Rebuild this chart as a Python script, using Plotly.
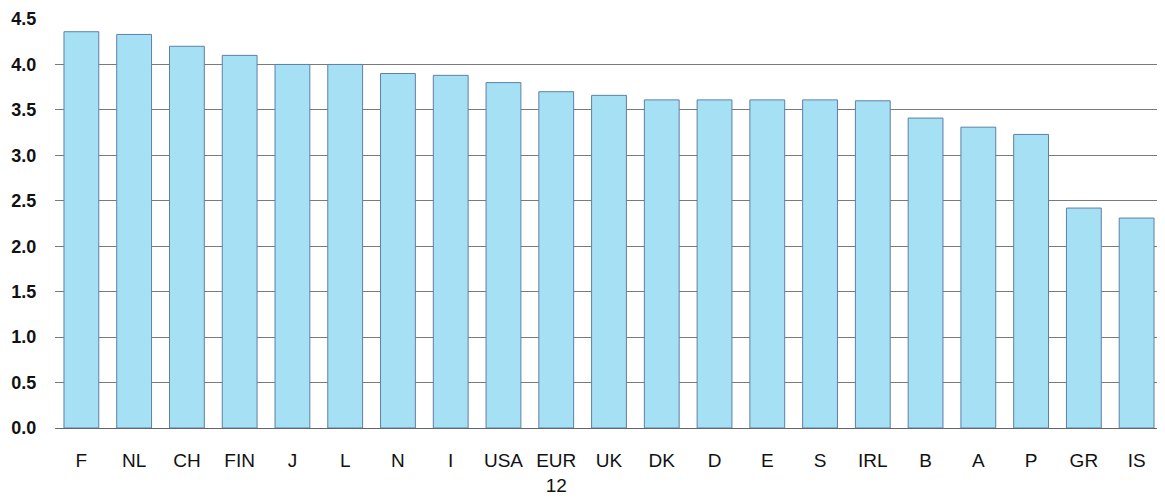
import plotly.graph_objects as go

categories = ["F", "NL", "CH", "FIN", "J", "L", "N", "I", "USA", "EUR<br>12", "UK",
              "DK", "D", "E", "S", "IRL", "B", "A", "P", "GR", "IS"]
values = [4.36, 4.33, 4.20, 4.10, 4.00, 4.00, 3.90, 3.88, 3.80, 3.70, 3.66,
          3.61, 3.61, 3.61, 3.61, 3.60, 3.41, 3.31, 3.23, 2.42, 2.31]
y_ticks = [0.0, 0.5, 1.0, 1.5, 2.0, 2.5, 3.0, 3.5, 4.0, 4.5]
y_tick_labels = ["%.1f" % v for v in y_ticks]

fig = go.Figure(go.Bar(
    x=categories, y=values,
    marker=dict(color="#a6e0f5", line=dict(color="#5f7fa6", width=1)),
))

# page body has an 8px default margin; size the figure to fill the window
fig.update_layout(
    width=1157, height=490,
    margin=dict(l=47, r=2, t=11, b=70, autoexpand=False),
    paper_bgcolor="white", plot_bgcolor="white",
    bargap=0.34,
    showlegend=False,
    font=dict(family="Liberation Sans, Arial, sans-serif", color="#111111"),
)
fig.update_xaxes(
    automargin=False,
    tickfont=dict(size=19, color="#111111"),
    ticks="outside", ticklen=15, tickcolor="rgba(0,0,0,0)",
    showgrid=False, showline=False,
)
fig.update_yaxes(
    automargin=False,
    range=[0, 4.5], tickvals=y_ticks, ticktext=y_tick_labels,
    tickfont=dict(size=18, color="#111111", weight="bold"),
    ticks="outside", ticklen=14, tickcolor="rgba(0,0,0,0)",
    showgrid=True, gridcolor="#7a7a7a", gridwidth=1,
    zeroline=True, zerolinecolor="#666666", zerolinewidth=1,
    showline=False,
)

fig.write_html("out.html")
